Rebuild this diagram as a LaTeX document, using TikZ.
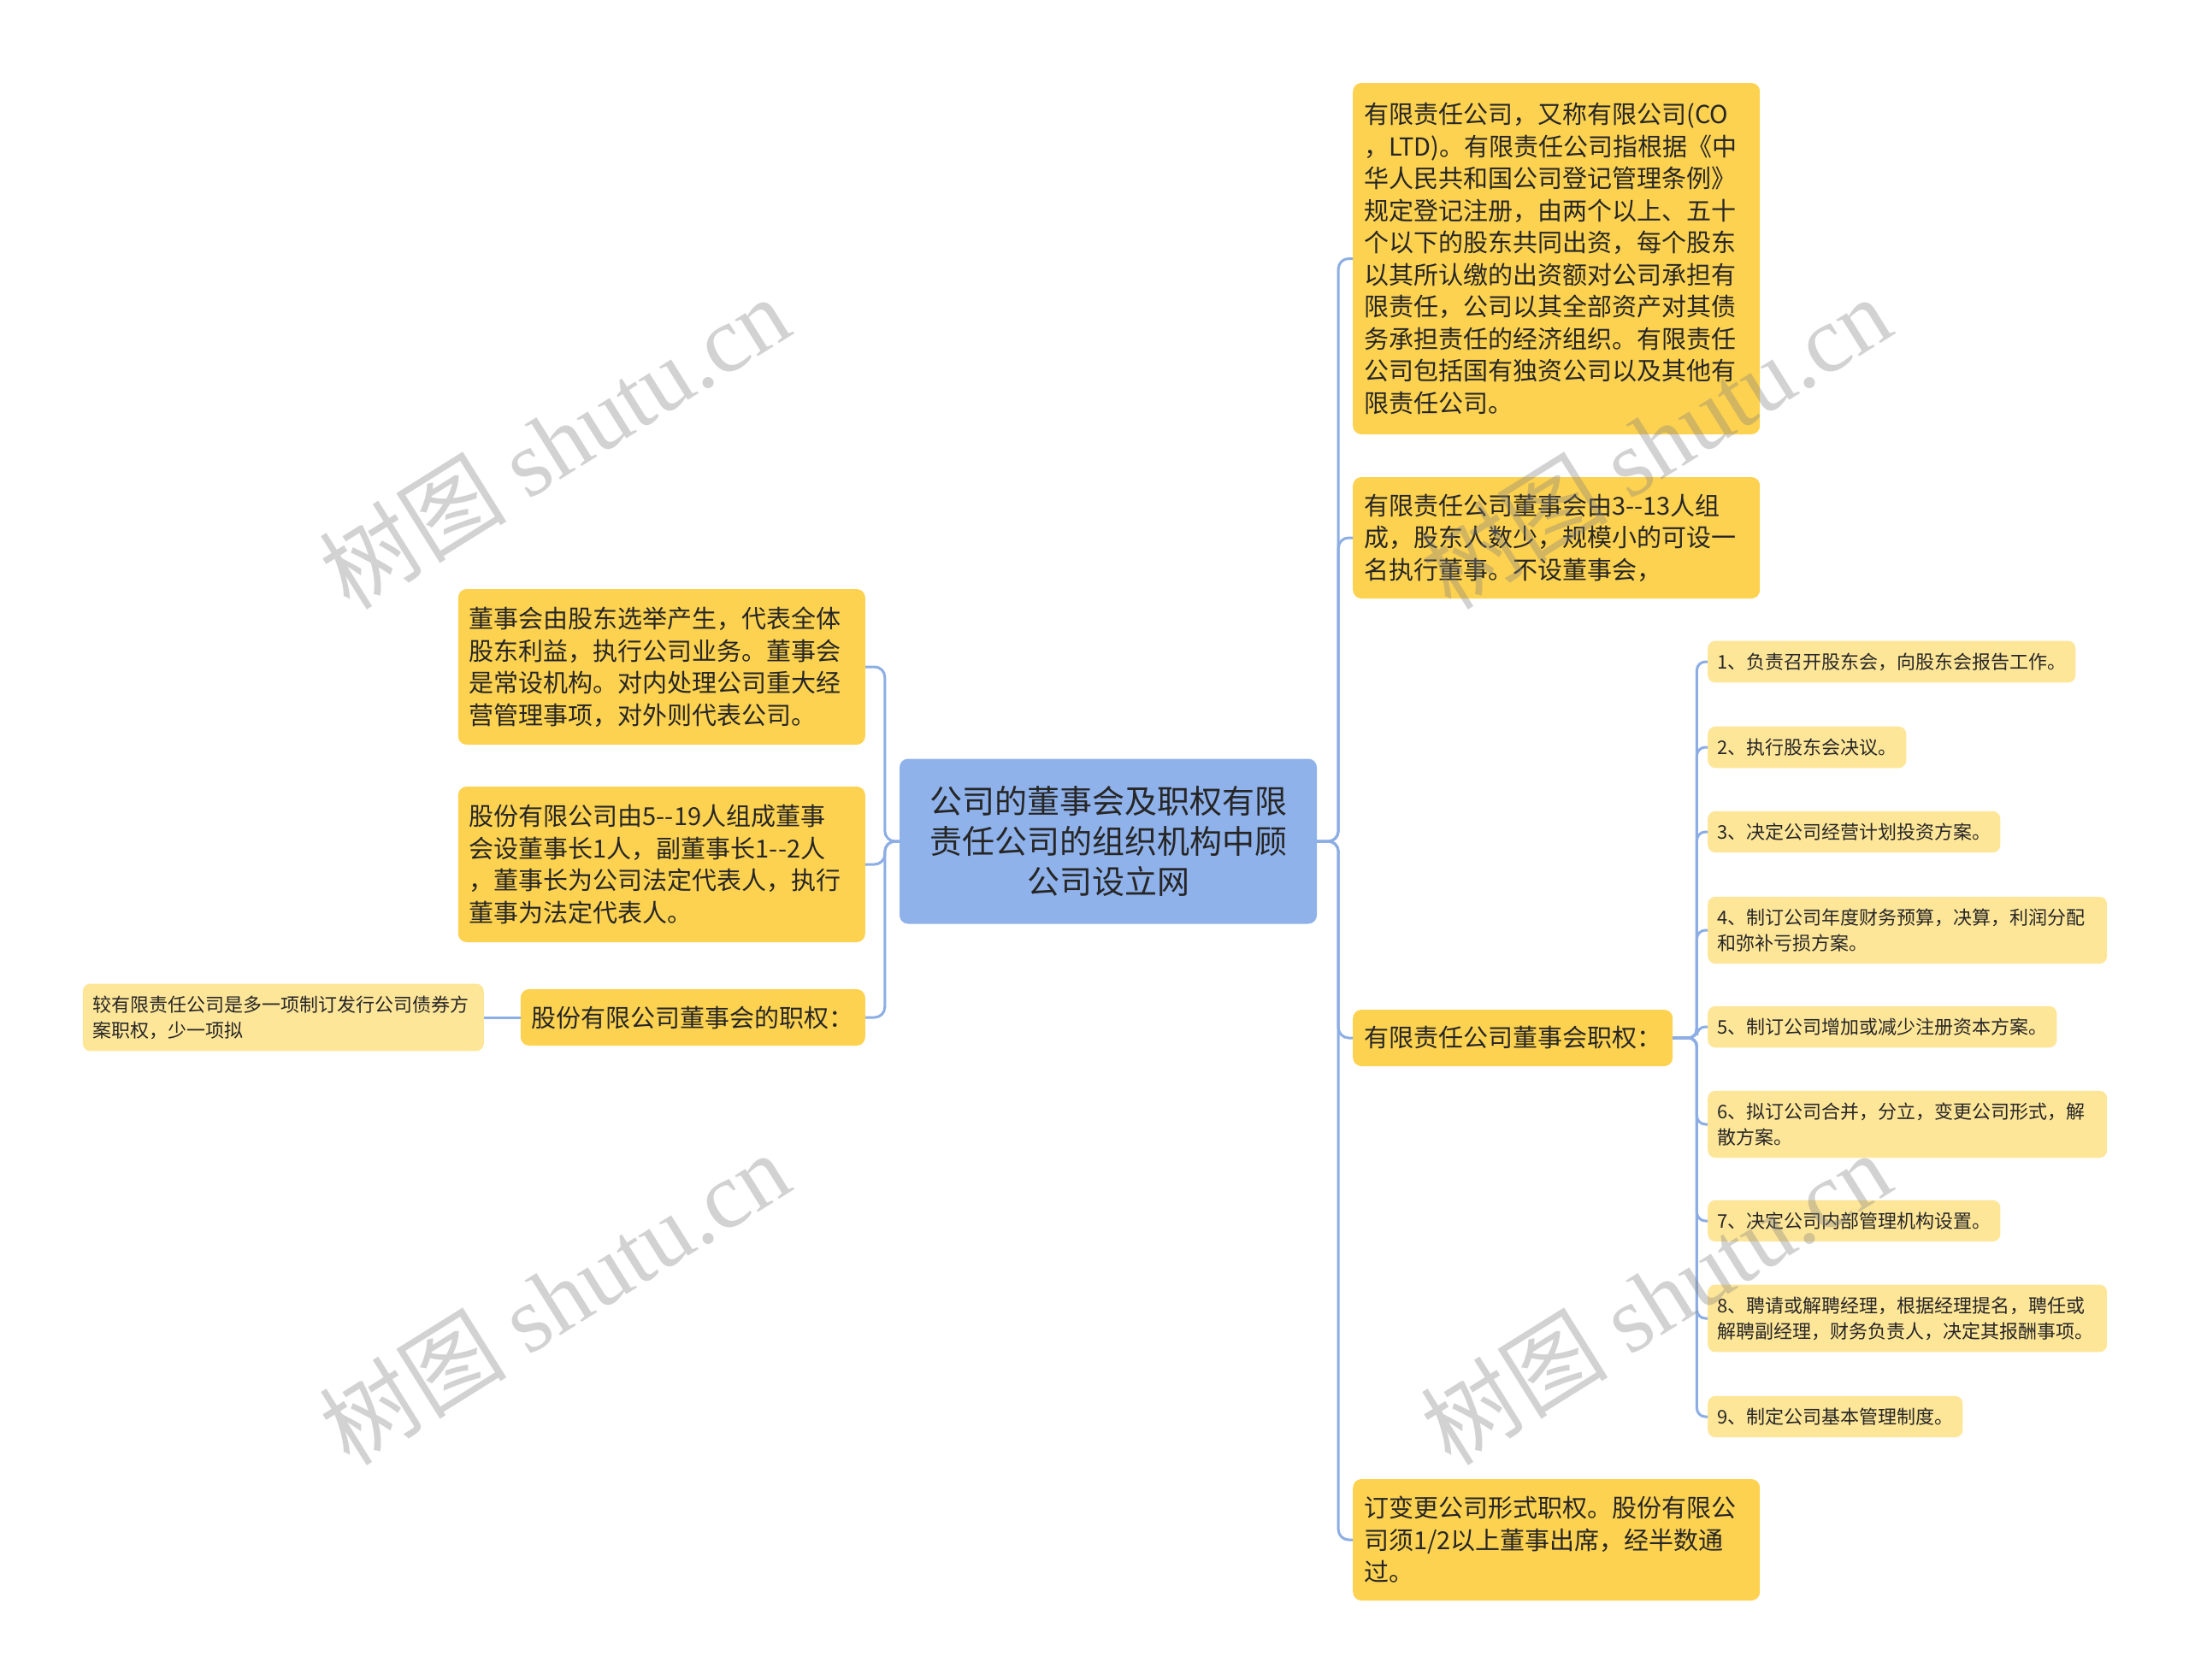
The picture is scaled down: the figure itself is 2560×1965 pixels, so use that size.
\documentclass[tikz,border=0pt]{standalone}
\usepackage{fontspec}
\setmainfont{Noto Sans CJK SC}
\newfontfamily\wmfont{Liberation Serif}
\usetikzlibrary{calc}
\definecolor{rootblue}{RGB}{143,178,235}
\definecolor{gold}{RGB}{253,210,80}
\definecolor{pale}{RGB}{254,230,153}
\definecolor{linkblue}{RGB}{140,174,228}
\definecolor{ink}{RGB}{38,38,38}
\tikzset{
  box/.style={fill=gold, rounded corners=10, text=ink, align=left, inner xsep=13, inner ysep=0, font=\fontsize{29}{37.5}\selectfont},
  wide/.style={box, text width=450},
  leaf/.style={fill=pale, rounded corners=9, text=ink, align=left, inner xsep=11, inner ysep=14, font=\fontsize{22}{30}\selectfont},
  leafwide/.style={leaf, text width=445},
  link/.style={draw=linkblue, line width=3, rounded corners=12},
  wm/.style={text=gray, opacity=0.35, font=\fontsize{110}{110}\selectfont, rotate=32}
}

\begin{document}
\begin{tikzpicture}[x=1pt,y=-1pt]
\useasboundingbox (0,0) rectangle (2560,1965);
\fill[white] (0,0) rectangle (2560,1965);
\node[box, fill=rootblue, align=center, text width=462, minimum height=193, font=\fontsize{38}{47}\selectfont] (root) at (1296,984) {公司的董事会及职权有限\\责任公司的组织机构中顾\\公司设立网};
\node[wide, anchor=west, minimum height=411] (lim) at (1582,302.5) {有限责任公司，又称有限公司(CO\\，LTD)。有限责任公司指根据《中\\华人民共和国公司登记管理条例》\\规定登记注册，由两个以上、五十\\个以下的股东共同出资，每个股东\\以其所认缴的出资额对公司承担有\\限责任，公司以其全部资产对其债\\务承担责任的经济组织。有限责任\\公司包括国有独资公司以及其他有\\限责任公司。};
\node[wide, anchor=west, minimum height=142] (size) at (1582,629) {有限责任公司董事会由3{-}{-}13人组\\成，股东人数少，规模小的可设一\\名执行董事。不设董事会，};
\node[box, anchor=west, minimum height=66] (lpow) at (1582,1214) {有限责任公司董事会职权：};
\node[wide, anchor=west, minimum height=142] (form) at (1582,1801) {订变更公司形式职权。股份有限公\\司须1/2以上董事出席，经半数通\\过。};
\node[wide, anchor=east, minimum height=182] (elect) at (1012,780) {董事会由股东选举产生，代表全体\\股东利益，执行公司业务。董事会\\是常设机构。对内处理公司重大经\\营管理事项，对外则代表公司。};
\node[wide, anchor=east, minimum height=182] (share) at (1012,1011) {股份有限公司由5{-}{-}19人组成董事\\会设董事长1人，副董事长1{-}{-}2人\\，董事长为公司法定代表人，执行\\董事为法定代表人。};
\node[box, anchor=east, minimum height=66] (spow) at (1012,1190) {股份有限公司董事会的职权：};
\node[leafwide, anchor=east, inner xsep=12] (extra) at (566,1190) {较有限责任公司是多一项制订发行公司债券方\\案职权，少一项拟};
\foreach \n in {lim,size,lpow,form}
  \draw[link] (root.east) -- ++(25,0) |- (\n.west);
\foreach \n in {elect,share,spow}
  \draw[link] (root.west) -- ++(-17,0) |- (\n.east);
\draw[link] (spow.west) -- (extra.east);
\foreach \y/\s/\t [count=\i] in {
    774/leaf/{1、负责召开股东会，向股东会报告工作。},
    874/leaf/{2、执行股东会决议。},
    973/leaf/{3、决定公司经营计划投资方案。},
    1088/leafwide/{4、制订公司年度财务预算，决算，利润分配\\和弥补亏损方案。},
    1201/leaf/{5、制订公司增加或减少注册资本方案。},
    1315/leafwide/{6、拟订公司合并，分立，变更公司形式，解\\散方案。},
    1428/leaf/{7、决定公司内部管理机构设置。},
    1542/leafwide/{8、聘请或解聘经理，根据经理提名，聘任或\\解聘副经理，财务负责人，决定其报酬事项。},
    1657/leaf/{9、制定公司基本管理制度。}} {
  \node[\s, anchor=west] (duty\i) at (1997,\y) {\t};
  \draw[link, rounded corners=10] (lpow.east) -- ++(28,0) |- (duty\i.west);
}
\foreach \x/\y [count=\k] in {648/517, 648/1518, 1936/517, 1936/1518}
  \node[wm] (wm\k) at (\x,\y) {树图 {\wmfont shutu.cn}};
\end{tikzpicture}
\end{document}
